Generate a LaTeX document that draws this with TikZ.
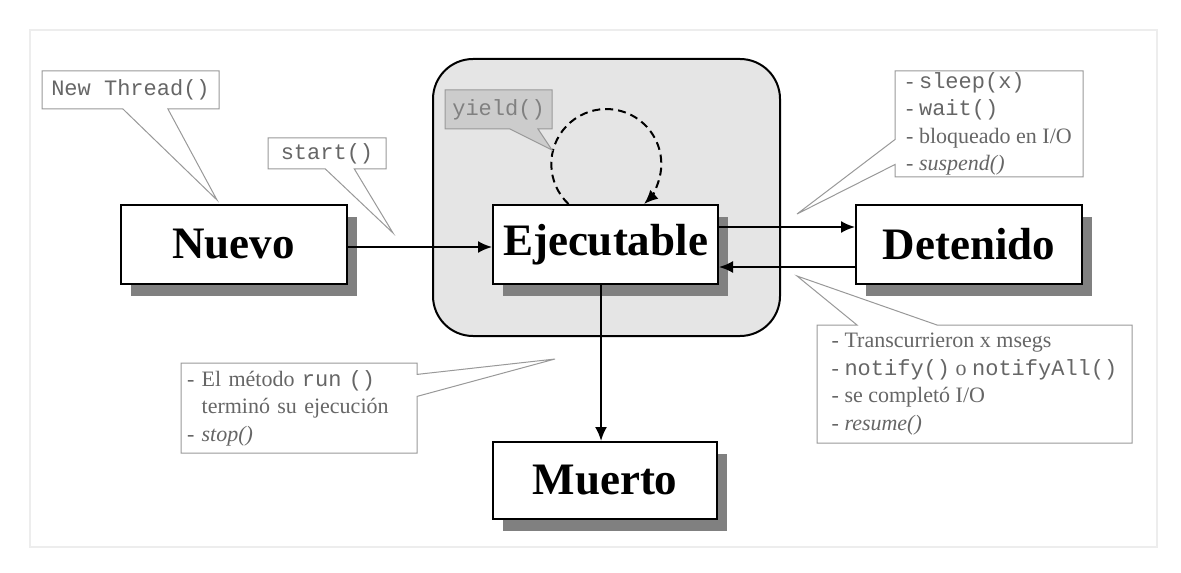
\documentclass[tikz,border=0pt]{standalone}
\usepackage{fontspec}
\setmainfont{Liberation Serif}
\setmonofont{Liberation Mono}
\usetikzlibrary{arrows.meta,shapes.callouts,shadows}
\tikzset{
	estado/.style={draw,line width=1pt,fill=white,minimum width=113pt,minimum height=39.5pt,inner sep=0pt,
		font=\bfseries\fontsize{22.5}{27}\selectfont,
		drop shadow={shadow xshift=5pt,shadow yshift=-6pt,fill=black!50,opacity=1}},
	nota/.style={rectangle callout,draw=black!40,line width=0.5pt,text=black!60,fill=white,
		font=\fontsize{11}{13.75}\selectfont,inner ysep=0pt},
	flecha/.style={line width=1pt,-{Latex[length=7pt,width=6pt]}}
}
\begin{document}
\begin{tikzpicture}[x=0.5pt,y=-0.5pt]
	\useasboundingbox (0,0) rectangle (1181,572);
	\draw[black!7,line width=1pt] (30,30) rectangle (1157,547);
	\node[draw,line width=1pt,fill=black!10,rounded corners=20pt,minimum width=173.5pt,minimum height=138.5pt] (zona) at (606.5,197.5) {};
	\node[estado] (nuevo) at (233.5,244.5) {Nuevo};
	\node[estado,minimum width=112.5pt] (ejec) at (605.5,244.5) {Ejecutable};
	\node[estado] (deten) at (969,244.5) {Detenido};
	\node[estado,minimum width=112pt,minimum height=38.5pt] (muerto) at (605,480.5) {Muerto};
	\draw[flecha] ([yshift=-1.25pt]nuevo.east) -- ([yshift=-1.25pt]ejec.west);
	\draw[flecha] ([yshift=8.75pt]ejec.east) -- ([yshift=8.75pt]deten.west);
	\draw[flecha] ([yshift=-11.25pt]deten.west) -- ([yshift=-11.25pt]ejec.east);
	\draw[flecha] ([xshift=-2.25pt]ejec.south) -- ([xshift=-2.25pt]ejec.south |- muerto.north);
	\draw[flecha,dash pattern=on 4pt off 2.5pt] ([xshift=-18.5pt]ejec.north) arc[start angle=226.6,end angle=-46.6,radius=27.5pt];
	\node[nota,minimum width=88.5pt,minimum height=19pt,callout absolute pointer={(217,200)},callout pointer width=22.5pt] (nthread) at (130.5,90) {\ttfamily New Thread()};
	\node[nota,minimum width=59pt,minimum height=15.5pt,callout absolute pointer={(393,233)},callout pointer width=14.5pt] (start) at (327,153.5) {\ttfamily start()};
	\node[nota,fill=black!20,text=black!50,minimum width=53.5pt,minimum height=19.5pt,callout absolute pointer={(552,150)},callout pointer width=14pt] (yield) at (498.5,109.5) {\ttfamily yield()};
	\node[nota,inner xsep=2pt,align=left,minimum width=94pt,minimum height=53pt,callout absolute pointer={(797,214)},callout pointer width=12.5pt] (dormir) at (989,124)
		{- \texttt{sleep(x)}\\- \texttt{wait()}\\- bloqueado en I/O\\- \textit{suspend()}};
	\node[nota,inner xsep=3pt,text width=112pt,align=left,minimum height=45pt,callout absolute pointer={(555,359)},callout pointer width=11pt] (fin) at (299,408)
		{- El método \texttt{run ()}\\\phantom{- }terminó su ejecución\\\textit{- stop()}};
	\node[nota,inner xsep=2pt,align=left,minimum width=157.5pt,minimum height=59pt,callout absolute pointer={(797,276)},callout pointer width=40pt] (despertar) at (974.5,384)
		{- Transcurrieron x msegs\\- \texttt{notify()} o \texttt{notifyAll()}\\- se completó I/O\\- \textit{resume()}};
\end{tikzpicture}
\end{document}
